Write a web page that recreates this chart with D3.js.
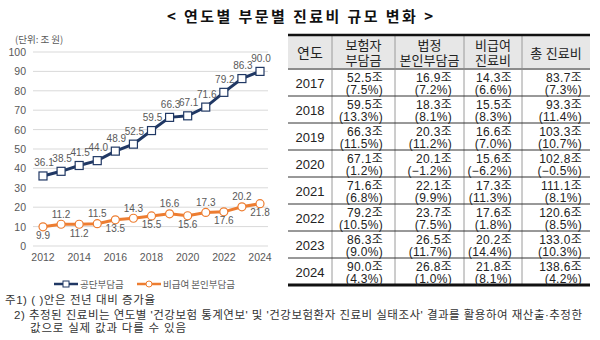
<!DOCTYPE html>
<html>
<head>
<meta charset="utf-8">
<script src="https://cdn.jsdelivr.net/npm/d3@7"></script>
<style>
  body { margin: 0; background: #fff; }
  text { font-family: 'Liberation Sans', 'Noto Sans CJK KR', sans-serif; }
  .kr { font-family: 'Noto Sans CJK KR', sans-serif; }
</style>
</head>
<body>
<div id="chart"></div>
<script>
// line chart data, 2012-2024 (조 원)
const years = [2012, 2013, 2014, 2015, 2016, 2017, 2018, 2019, 2020, 2021, 2022, 2023, 2024]
const nhisValues = [36.1, 38.5, 41.5, 44.0, 48.9, 52.5, 59.5, 66.3, 67.1, 71.6, 79.2, 86.3, 90.0]
const nonCoveredValues = [9.9, 11.2, 11.2, 11.5, 13.5, 14.3, 15.5, 16.6, 15.6, 17.3, 17.6, 20.2, 21.8]
const yTicks = [0, 10, 20, 30, 40, 50, 60, 70, 80, 90, 100]
const xTicks = [2012, 2014, 2016, 2018, 2020, 2022, 2024]
const seriesNames = ['공단부담금', '비급여 본인부담금']

// table data, 2017-2024
const tableYears = [2017, 2018, 2019, 2020, 2021, 2022, 2023, 2024]
const insurerAmount = [52.5, 59.5, 66.3, 67.1, 71.6, 79.2, 86.3, 90.0]
const insurerRate = [7.5, 13.3, 11.5, 1.2, 6.8, 10.5, 9.0, 4.3]
const statutoryAmount = [16.9, 18.3, 20.3, 20.1, 22.1, 23.7, 26.5, 26.8]
const statutoryRate = [7.2, 8.1, 11.2, -1.2, 9.9, 7.5, 11.7, 1.0]
const nonCoveredAmount = [14.3, 15.5, 16.6, 15.6, 17.3, 17.6, 20.2, 21.8]
const nonCoveredRate = [6.6, 8.3, 7.0, -6.2, 11.3, 1.8, 14.4, 8.1]
const totalAmount = [83.7, 93.3, 103.3, 102.8, 111.1, 120.6, 133.0, 138.6]
const totalRate = [7.3, 11.4, 10.7, -0.5, 8.1, 8.5, 10.3, 4.2]
const tableHeaders = [['연도'], ['보험자', '부담금'], ['법정', '본인부담금'], ['비급여', '진료비'], ['총 진료비']]

const width = 600
const height = 340
const navy = '#203864'
const orange = '#ed7d31'
const labelGray = '#595959'

const svg = d3
  .select('#chart')
  .append('svg')
  .attr('width', width)
  .attr('height', height)

svg
  .append('text')
  .attr('class', 'kr')
  .attr('x', 167)
  .attr('y', 15)
  .attr('dominant-baseline', 'central')
  .attr('textLength', 266)
  .attr('lengthAdjust', 'spacing')
  .style('font-size', '15px')
  .style('font-weight', 700)
  .attr('fill', '#111')
  .text('< 연도별 부문별 진료비 규모 변화 >')

// ---- line chart ----
const plot = { left: 33, right: 268 }
const xScale = d3.scaleLinear().domain([2012, 2024]).range([43, 260])
const yScale = d3.scaleLinear().domain([0, 100]).range([246, 52])

const chart = svg.append('g')

chart
  .append('text')
  .attr('class', 'kr')
  .attr('x', 15)
  .attr('y', 39)
  .attr('dominant-baseline', 'central')
  .style('font-size', '9.5px')
  .attr('fill', labelGray)
  .text('(단위: 조 원)')

chart
  .selectAll('.grid')
  .data(yTicks)
  .enter()
  .append('line')
  .attr('class', 'grid')
  .attr('x1', plot.left)
  .attr('x2', plot.right)
  .attr('y1', d => yScale(d))
  .attr('y2', d => yScale(d))
  .attr('stroke', '#d9d9d9')
  .attr('stroke-width', 1)

chart
  .selectAll('.y-label')
  .data(yTicks)
  .enter()
  .append('text')
  .attr('class', 'y-label')
  .attr('x', 26)
  .attr('y', d => yScale(d))
  .attr('text-anchor', 'end')
  .attr('dominant-baseline', 'central')
  .style('font-size', '10.5px')
  .attr('fill', labelGray)
  .text(d => d)

chart
  .selectAll('.x-label')
  .data(xTicks)
  .enter()
  .append('text')
  .attr('class', 'x-label')
  .attr('x', d => xScale(d))
  .attr('y', 257)
  .attr('text-anchor', 'middle')
  .attr('dominant-baseline', 'central')
  .style('font-size', '10.5px')
  .attr('fill', labelGray)
  .text(d => d)

const line = d3
  .line()
  .x(d => xScale(d.year))
  .y(d => yScale(d.value))

const nhis = years.map((year, i) => ({ year, value: nhisValues[i] }))
const nonCovered = years.map((year, i) => ({ year, value: nonCoveredValues[i] }))

chart
  .append('path')
  .datum(nhis)
  .attr('d', line)
  .attr('fill', 'none')
  .attr('stroke', navy)
  .attr('stroke-width', 3)

chart
  .append('path')
  .datum(nonCovered)
  .attr('d', line)
  .attr('fill', 'none')
  .attr('stroke', orange)
  .attr('stroke-width', 3)

chart
  .selectAll('.nhis-point')
  .data(nhis)
  .enter()
  .append('rect')
  .attr('class', 'nhis-point')
  .attr('x', d => xScale(d.year) - 4)
  .attr('y', d => yScale(d.value) - 4)
  .attr('width', 8)
  .attr('height', 8)
  .attr('fill', '#fff')
  .attr('stroke', navy)
  .attr('stroke-width', 1.2)

chart
  .selectAll('.nc-point')
  .data(nonCovered)
  .enter()
  .append('circle')
  .attr('class', 'nc-point')
  .attr('cx', d => xScale(d.year))
  .attr('cy', d => yScale(d.value))
  .attr('r', 4)
  .attr('fill', '#fff')
  .attr('stroke', orange)
  .attr('stroke-width', 1.2)

chart
  .selectAll('.nhis-label')
  .data(nhis)
  .enter()
  .append('text')
  .attr('class', 'nhis-label')
  .attr('x', d => xScale(d.year) + 1)
  .attr('y', d => yScale(d.value) - 13)
  .attr('text-anchor', 'middle')
  .attr('dominant-baseline', 'central')
  .style('font-size', '10px')
  .attr('fill', labelGray)
  .text(d => d.value.toFixed(1))

// orange labels alternate below / above
chart
  .selectAll('.nc-label')
  .data(nonCovered)
  .enter()
  .append('text')
  .attr('class', 'nc-label')
  .attr('x', d => xScale(d.year))
  .attr('y', (d, i) => yScale(d.value) + (i % 2 === 0 ? 9 : -10))
  .attr('text-anchor', 'middle')
  .attr('dominant-baseline', 'central')
  .style('font-size', '10px')
  .attr('fill', labelGray)
  .text(d => d.value.toFixed(1))

// legend
const legend = chart.append('g').attr('class', 'legend')
const legendRows = [
  { name: seriesNames[0], color: navy, x: 54, shape: 'rect' },
  { name: seriesNames[1], color: orange, x: 137, shape: 'circle' }
]

legend
  .selectAll('.legend-item')
  .data(legendRows)
  .enter()
  .append('g')
  .attr('class', 'legend-item')
  .attr('transform', d => `translate(${d.x},284)`)
  .each(function(d) {
    const g = d3.select(this)
    g.append('line')
      .attr('x1', 0)
      .attr('x2', 24)
      .attr('stroke', d.color)
      .attr('stroke-width', 2.5)
    if (d.shape === 'rect') {
      g.append('rect')
        .attr('x', 9)
        .attr('y', -3)
        .attr('width', 6)
        .attr('height', 6)
        .attr('fill', '#fff')
        .attr('stroke', d.color)
    } else {
      g.append('circle')
        .attr('cx', 12)
        .attr('r', 3)
        .attr('fill', '#fff')
        .attr('stroke', d.color)
    }
    g.append('text')
      .attr('class', 'kr')
      .attr('x', 26)
      .attr('dominant-baseline', 'central')
      .style('font-size', '9.5px')
      .attr('fill', labelGray)
      .text(d.name)
  })

// ---- table ----
const colEdges = [288, 332, 395, 464, 522, 590]
const rightPad = [0, 12, 12, 10, 8]
const tableTop = 35
const headerBottom = 69
const rowHeight = 27
const tableBottom = headerBottom + rowHeight * tableYears.length

const fmtAmount = d => d3.format('.1f')(d) + '조'
const fmtRate = d => '(' + d3.format('.1f')(d) + '%)'

const rows = tableYears.map((year, i) => [
  [String(year)],
  [fmtAmount(insurerAmount[i]), fmtRate(insurerRate[i])],
  [fmtAmount(statutoryAmount[i]), fmtRate(statutoryRate[i])],
  [fmtAmount(nonCoveredAmount[i]), fmtRate(nonCoveredRate[i])],
  [fmtAmount(totalAmount[i]), fmtRate(totalRate[i])]
])

const table = svg.append('g').attr('class', 'table')

table
  .append('rect')
  .attr('x', colEdges[0])
  .attr('y', tableTop)
  .attr('width', colEdges[5] - colEdges[0])
  .attr('height', headerBottom - tableTop)
  .attr('fill', '#e7e7e7')

// vertical separators
table
  .selectAll('.vline')
  .data(colEdges.slice(1, -1))
  .enter()
  .append('line')
  .attr('x1', d => d)
  .attr('x2', d => d)
  .attr('y1', tableTop)
  .attr('y2', tableBottom)
  .attr('stroke', '#9a9a9a')
  .attr('stroke-width', 1)

// row separators
table
  .selectAll('.hline')
  .data(d3.range(1, tableYears.length))
  .enter()
  .append('line')
  .attr('x1', colEdges[0])
  .attr('x2', colEdges[5])
  .attr('y1', d => headerBottom + d * rowHeight)
  .attr('y2', d => headerBottom + d * rowHeight)
  .attr('stroke', '#333')
  .attr('stroke-width', 1)

table
  .append('line')
  .attr('x1', colEdges[0])
  .attr('x2', colEdges[5])
  .attr('y1', headerBottom)
  .attr('y2', headerBottom)
  .attr('stroke', '#8c8c8c')
  .attr('stroke-width', 2)

table
  .selectAll('.border')
  .data([tableTop, tableBottom])
  .enter()
  .append('line')
  .attr('x1', colEdges[0])
  .attr('x2', colEdges[5])
  .attr('y1', d => d)
  .attr('y2', d => d)
  .attr('stroke', '#111')
  .attr('stroke-width', (d, i) => (i === 0 ? 2.5 : 3))

tableHeaders.forEach((lines, c) => {
  const cx = (colEdges[c] + colEdges[c + 1]) / 2
  const mid = (tableTop + headerBottom) / 2 + 1
  lines.forEach((t, k) => {
    table
      .append('text')
      .attr('x', cx)
      .attr('y', mid + (k - (lines.length - 1) / 2) * 15)
      .attr('text-anchor', 'middle')
      .attr('dominant-baseline', 'central')
      .style('font-size', c === 0 ? '14px' : '13px')
      .attr('fill', '#222')
      .text(t)
  })
})

rows.forEach((cells, r) => {
  const top = headerBottom + r * rowHeight
  cells.forEach((lines, c) => {
    if (c === 0) {
      table
        .append('text')
        .attr('x', (colEdges[0] + colEdges[1]) / 2)
        .attr('y', top + rowHeight / 2 + 1)
        .attr('text-anchor', 'middle')
        .attr('dominant-baseline', 'central')
        .style('font-size', '13px')
        .attr('fill', '#222')
        .text(lines[0])
    } else {
      lines.forEach((t, k) => {
        table
          .append('text')
          .attr('x', colEdges[c + 1] - rightPad[c])
          .attr('y', top + 8.5 + k * 12.5)
          .attr('text-anchor', 'end')
          .attr('dominant-baseline', 'central')
          .style('font-size', '12px')
          .style('letter-spacing', '0.3px')
          .attr('fill', '#222')
          .text(t)
      })
    }
  })
})

// ---- notes ----
const notes = [
  { x: 5, y: 300, t: '주1) ( )안은 전년 대비 증가율', w: 150 },
  { x: 14, y: 315, t: "2) 추정된 진료비는 연도별 '건강보험 통계연보' 및 '건강보험환자 진료비 실태조사' 결과를 활용하여 재산출·추정한", w: 568 },
  { x: 30, y: 328, t: '값으로 실제 값과 다를 수 있음', w: 156 }
]

svg
  .selectAll('.note')
  .data(notes)
  .enter()
  .append('text')
  .attr('class', 'note')
  .attr('x', d => d.x)
  .attr('y', d => d.y)
  .attr('dominant-baseline', 'central')
  .attr('textLength', d => d.w)
  .attr('lengthAdjust', 'spacing')
  .style('font-size', '11.5px')
  .attr('fill', '#333')
  .text(d => d.t)
</script>
</body>
</html>
